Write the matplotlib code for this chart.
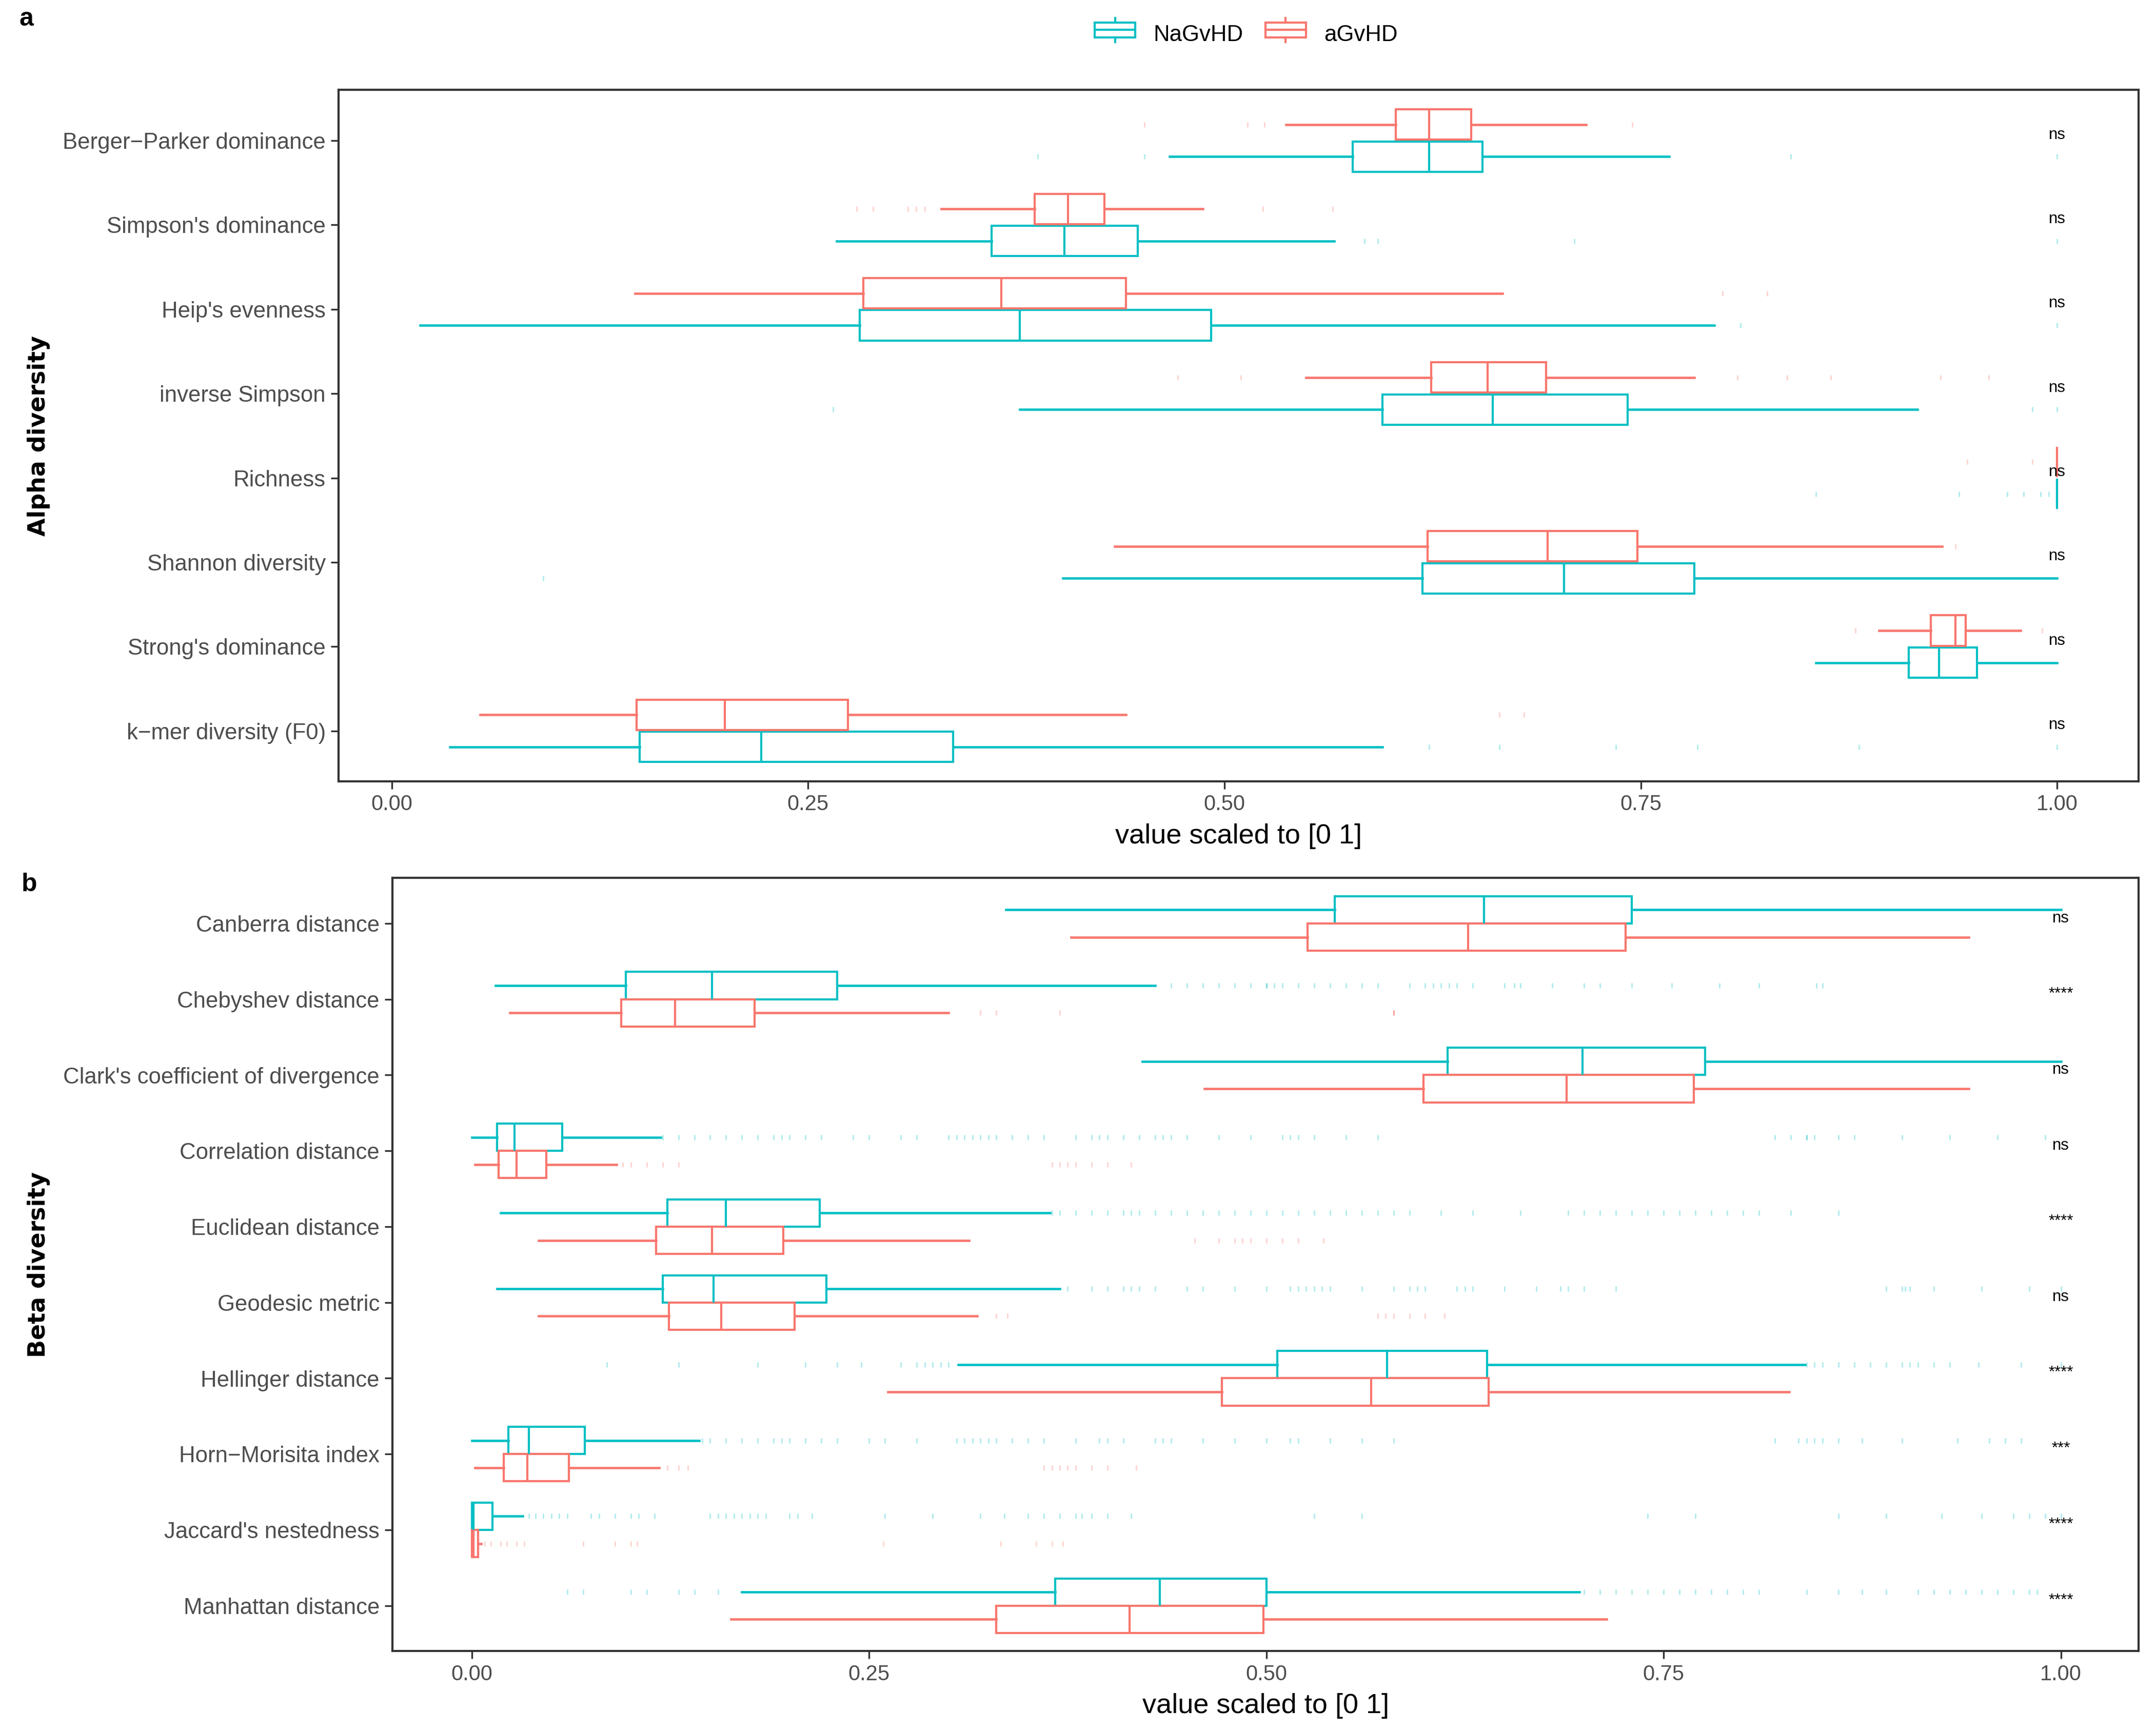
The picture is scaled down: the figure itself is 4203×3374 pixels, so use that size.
import numpy as np
import matplotlib.pyplot as plt
from matplotlib.patches import Rectangle
from matplotlib.lines import Line2D
from matplotlib.legend_handler import HandlerBase

plt.rcParams['font.family'] = ['Liberation Sans', 'DejaVu Sans']

RED = '#F8766D'
CYAN = '#00BFC4'
GREY = '#4D4D4D'

## DATA
# panel a - alpha diversity (top to bottom)
alpha_names = ["Berger\u2212Parker dominance", "Simpson's dominance", "Heip's evenness",
               "inverse Simpson", "Richness", "Shannon diversity", "Strong's dominance",
               "k\u2212mer diversity (F0)"]

# NaGvHD
a_na_lo = [0.467, 0.267, 0.017, 0.377, 1.0, 0.403, 0.855, 0.035]
a_na_q1 = [0.577, 0.360, 0.281, 0.595, 1.0, 0.619, 0.911, 0.149]
a_na_med = [0.623, 0.404, 0.377, 0.661, 1.0, 0.704, 0.929, 0.222]
a_na_q3 = [0.655, 0.448, 0.492, 0.742, 1.0, 0.782, 0.952, 0.337]
a_na_hi = [0.767, 0.566, 0.794, 0.916, 1.0, 1.0, 1.0, 0.595]
a_na_out = [[0.388, 0.452, 0.840, 1.0],
            [0.584, 0.592, 0.710, 1.0],
            [0.810, 1.0],
            [0.265, 0.985, 1.0],
            [0.855, 0.941, 0.97, 0.98, 0.99, 0.995],
            [0.091],
            [],
            [0.623, 0.665, 0.735, 0.784, 0.881, 1.0]]

# aGvHD
a_ag_lo = [0.537, 0.330, 0.146, 0.549, 1.0, 0.434, 0.893, 0.053]
a_ag_q1 = [0.603, 0.386, 0.283, 0.624, 1.0, 0.622, 0.924, 0.147]
a_ag_med = [0.623, 0.406, 0.366, 0.658, 1.0, 0.694, 0.939, 0.200]
a_ag_q3 = [0.648, 0.428, 0.441, 0.693, 1.0, 0.748, 0.945, 0.274]
a_ag_hi = [0.717, 0.487, 0.667, 0.782, 1.0, 0.931, 0.978, 0.441]
a_ag_out = [[0.452, 0.514, 0.524, 0.745],
            [0.279, 0.289, 0.310, 0.315, 0.320, 0.523, 0.565],
            [0.799, 0.826],
            [0.472, 0.510, 0.808, 0.838, 0.864, 0.930, 0.959],
            [0.946, 0.985],
            [0.939],
            [0.879, 0.991],
            [0.665, 0.680]]

a_sig = ['ns', 'ns', 'ns', 'ns', 'ns', 'ns', 'ns', 'ns']

# panel b - beta diversity (top to bottom)
beta_names = ["Canberra distance", "Chebyshev distance", "Clark's coefficient of divergence",
              "Correlation distance", "Euclidean distance", "Geodesic metric",
              "Hellinger distance", "Horn\u2212Morisita index", "Jaccard's nestedness",
              "Manhattan distance"]

b_na_lo = [0.336, 0.015, 0.422, 0.000, 0.018, 0.016, 0.306, 0.000, 0.000, 0.170]
b_na_q1 = [0.543, 0.097, 0.614, 0.016, 0.123, 0.120, 0.507, 0.023, 0.000, 0.367]
b_na_med = [0.637, 0.151, 0.699, 0.027, 0.160, 0.152, 0.576, 0.036, 0.001, 0.433]
b_na_q3 = [0.730, 0.230, 0.776, 0.057, 0.219, 0.223, 0.639, 0.071, 0.013, 0.500]
b_na_hi = [1.000, 0.430, 1.000, 0.119, 0.364, 0.370, 0.839, 0.143, 0.032, 0.697]
b_na_out = [
    [],
    [0.44, 0.45, 0.46, 0.47, 0.48, 0.49, 0.50, 0.50, 0.505, 0.51, 0.52, 0.53, 0.54, 0.55,
     0.56, 0.57, 0.59, 0.60, 0.605, 0.61, 0.615, 0.62, 0.63, 0.65, 0.656, 0.66, 0.68, 0.70,
     0.71, 0.73, 0.755, 0.785, 0.81, 0.846, 0.85],
    [],
    [0.12, 0.13, 0.14, 0.15, 0.16, 0.17, 0.18, 0.19, 0.195, 0.20, 0.21, 0.22, 0.24, 0.25,
     0.27, 0.28, 0.30, 0.305, 0.31, 0.315, 0.32, 0.325, 0.33, 0.34, 0.35, 0.36, 0.38, 0.39,
     0.395, 0.40, 0.41, 0.42, 0.43, 0.435, 0.44, 0.45, 0.47, 0.49, 0.51, 0.515, 0.52, 0.53,
     0.55, 0.57, 0.82, 0.83, 0.84, 0.84, 0.845, 0.86, 0.87, 0.90, 0.93, 0.96, 0.99],
    [0.365, 0.37, 0.38, 0.39, 0.40, 0.41, 0.415, 0.42, 0.43, 0.44, 0.45, 0.46, 0.47, 0.48,
     0.49, 0.50, 0.51, 0.52, 0.53, 0.54, 0.55, 0.56, 0.57, 0.58, 0.59, 0.61, 0.63, 0.66,
     0.69, 0.70, 0.71, 0.72, 0.73, 0.74, 0.75, 0.76, 0.77, 0.78, 0.79, 0.80, 0.81, 0.83, 0.86],
    [0.375, 0.39, 0.40, 0.41, 0.415, 0.42, 0.43, 0.45, 0.46, 0.48, 0.50, 0.515, 0.52, 0.525,
     0.53, 0.535, 0.54, 0.56, 0.58, 0.59, 0.595, 0.60, 0.62, 0.625, 0.63, 0.65, 0.67, 0.685,
     0.69, 0.70, 0.72, 0.89, 0.90, 0.902, 0.905, 0.92, 0.95, 0.98, 1.0],
    [0.085, 0.13, 0.18, 0.21, 0.23, 0.245, 0.27, 0.28, 0.285, 0.29, 0.295, 0.30, 0.84, 0.845,
     0.85, 0.86, 0.87, 0.88, 0.89, 0.90, 0.905, 0.91, 0.92, 0.93, 0.948, 0.975, 1.0],
    [0.145, 0.15, 0.16, 0.17, 0.18, 0.19, 0.195, 0.20, 0.21, 0.22, 0.23, 0.25, 0.26, 0.28,
     0.305, 0.31, 0.315, 0.32, 0.325, 0.33, 0.34, 0.35, 0.36, 0.38, 0.395, 0.40, 0.41, 0.43,
     0.435, 0.44, 0.46, 0.48, 0.50, 0.515, 0.52, 0.54, 0.56, 0.58, 0.82, 0.835, 0.84, 0.845,
     0.85, 0.86, 0.875, 0.90, 0.935, 0.955, 0.965, 0.975],
    [0.036, 0.04, 0.045, 0.05, 0.055, 0.06, 0.075, 0.08, 0.09, 0.10, 0.105, 0.115, 0.15,
     0.155, 0.16, 0.165, 0.17, 0.175, 0.18, 0.185, 0.20, 0.205, 0.214, 0.26, 0.29, 0.32,
     0.335, 0.35, 0.36, 0.37, 0.38, 0.384, 0.39, 0.40, 0.415, 0.53, 0.56, 0.74, 0.77, 0.86,
     0.89, 0.925, 0.95, 0.97, 0.98, 0.99, 1.0],
    [0.06, 0.07, 0.10, 0.11, 0.13, 0.14, 0.155, 0.70, 0.71, 0.72, 0.73, 0.74, 0.75, 0.76,
     0.77, 0.78, 0.79, 0.80, 0.81, 0.84, 0.86, 0.875, 0.89, 0.91, 0.92, 0.93, 0.94, 0.95,
     0.96, 0.97, 0.98, 0.985]]

b_ag_lo = [0.377, 0.024, 0.461, 0.002, 0.042, 0.042, 0.262, 0.002, 0.000, 0.163]
b_ag_q1 = [0.526, 0.094, 0.599, 0.017, 0.116, 0.124, 0.472, 0.020, 0.000, 0.330]
b_ag_med = [0.627, 0.128, 0.689, 0.028, 0.151, 0.157, 0.566, 0.035, 0.001, 0.414]
b_ag_q3 = [0.726, 0.178, 0.769, 0.047, 0.196, 0.203, 0.640, 0.061, 0.004, 0.498]
b_ag_hi = [0.942, 0.300, 0.942, 0.091, 0.313, 0.318, 0.829, 0.118, 0.006, 0.714]
b_ag_out = [
    [],
    [0.32, 0.33, 0.37, 0.58, 0.58, 0.58],
    [],
    [0.095, 0.10, 0.11, 0.12, 0.13, 0.365, 0.37, 0.375, 0.38, 0.39, 0.40, 0.415],
    [0.455, 0.47, 0.48, 0.485, 0.49, 0.50, 0.51, 0.52, 0.536],
    [0.33, 0.337, 0.57, 0.575, 0.58, 0.59, 0.60, 0.612],
    [],
    [0.123, 0.13, 0.136, 0.36, 0.365, 0.37, 0.375, 0.38, 0.39, 0.40, 0.418],
    [0.008, 0.012, 0.018, 0.022, 0.028, 0.033, 0.07, 0.09, 0.10, 0.104, 0.259, 0.333,
     0.355, 0.365, 0.372],
    []]

b_sig = ['ns', '****', 'ns', 'ns', '****', 'ns', '****', '***', '****', '****']

x_ticks = [0.0, 0.25, 0.5, 0.75, 1.0]
x_ticklabels = ['0.00', '0.25', '0.50', '0.75', '1.00']


def draw_group(ax, pos, lo, q1, med, q3, hi, out, color):
    stats = [dict(whislo=a, q1=b, med=c, q3=d, whishi=e, fliers=f)
             for a, b, c, d, e, f in zip(lo, q1, med, q3, hi, out)]
    ax.bxp(stats, positions=pos, widths=0.36, orientation='horizontal',
           showcaps=False, patch_artist=True, manage_ticks=False,
           boxprops=dict(facecolor='white', edgecolor=color, linewidth=1.0),
           medianprops=dict(color=color, linewidth=1.0),
           whiskerprops=dict(color=color, linewidth=1.1),
           flierprops=dict(marker='|', markeredgecolor=color, markersize=2.5,
                           markeredgewidth=0.7, alpha=0.3, linestyle='none'))


def style_axes(ax, names, sig, xlim, ylabel, label_x):
    n = len(names)
    ypos = np.arange(n, 0, -1)
    ax.set_xlim(*xlim)
    ax.set_ylim(0.4, n + 0.6)
    ax.set_yticks(ypos)
    ax.set_yticklabels(names, fontsize=10.5, color=GREY)
    ax.set_xticks(x_ticks)
    ax.set_xticklabels(x_ticklabels, fontsize=10, color=GREY)
    ax.tick_params(length=3.5, width=0.8, color='#333333', pad=2.5)
    for s in ax.spines.values():
        s.set_color('#333333')
        s.set_linewidth(1.0)
    ax.set_xlabel('value scaled to [0 1]', fontsize=13, labelpad=4)
    ax.set_ylabel(ylabel, fontsize=11, fontweight='bold', family='DejaVu Sans')
    ax.yaxis.set_label_coords(label_x, 0.5)
    for y, s in zip(ypos, sig):
        ax.text(1.0, y + 0.07, s, ha='center', va='center', fontsize=7.5, color='black')


class BoxKey(HandlerBase):
    def create_artists(self, legend, orig_handle, x0, y0, width, height, fontsize, trans):
        c = orig_handle.get_edgecolor()
        xm = x0 + width / 2
        r = Rectangle((x0, y0 + 0.1 * height), width, 0.8 * height, facecolor='white',
                      edgecolor=c, linewidth=1.0, transform=trans)
        m = Line2D([x0, x0 + width], [y0 + 0.5 * height] * 2, color=c, lw=1.0, transform=trans)
        w1 = Line2D([xm, xm], [y0 + 0.9 * height, y0 + 1.15 * height], color=c, lw=1.0, transform=trans)
        w2 = Line2D([xm, xm], [y0 - 0.15 * height, y0 + 0.1 * height], color=c, lw=1.0, transform=trans)
        return [r, m, w1, w2]


fig = plt.figure(figsize=(14.01, 11.247), dpi=300)

## PANEL A
ax_a = fig.add_axes([0.157, 0.5485, 0.835, 0.3995])
pos_a = np.arange(len(alpha_names), 0, -1)
draw_group(ax_a, pos_a - 0.19, a_na_lo, a_na_q1, a_na_med, a_na_q3, a_na_hi, a_na_out, CYAN)
draw_group(ax_a, pos_a + 0.19, a_ag_lo, a_ag_q1, a_ag_med, a_ag_q3, a_ag_hi, a_ag_out, RED)
style_axes(ax_a, alpha_names, a_sig, (-0.032, 1.049), 'Alpha diversity', -0.160)

## PANEL B
ax_b = fig.add_axes([0.182, 0.0461, 0.810, 0.4467])
pos_b = np.arange(len(beta_names), 0, -1)
draw_group(ax_b, pos_b + 0.18, b_na_lo, b_na_q1, b_na_med, b_na_q3, b_na_hi, b_na_out, CYAN)
draw_group(ax_b, pos_b - 0.18, b_ag_lo, b_ag_q1, b_ag_med, b_ag_q3, b_ag_hi, b_ag_out, RED)
style_axes(ax_b, beta_names, b_sig, (-0.050, 1.049), 'Beta diversity', -0.196)

## LEGEND + PANEL LETTERS
h_na = Rectangle((0, 0), 1, 1, edgecolor=CYAN, facecolor='white')
h_ag = Rectangle((0, 0), 1, 1, edgecolor=RED, facecolor='white')
fig.legend([h_na, h_ag], ['NaGvHD', 'aGvHD'], handler_map={Rectangle: BoxKey()},
           loc='center', bbox_to_anchor=(0.578, 0.980), ncol=2, frameon=False,
           fontsize=10.5, handlelength=1.8, handleheight=0.9, columnspacing=1.0,
           handletextpad=0.8)

fig.text(0.009, 0.989, 'a', fontsize=12, fontweight='bold', va='center')
fig.text(0.010, 0.489, 'b', fontsize=12, fontweight='bold', va='center')

fig.savefig('out.png', dpi=300, facecolor='white')
